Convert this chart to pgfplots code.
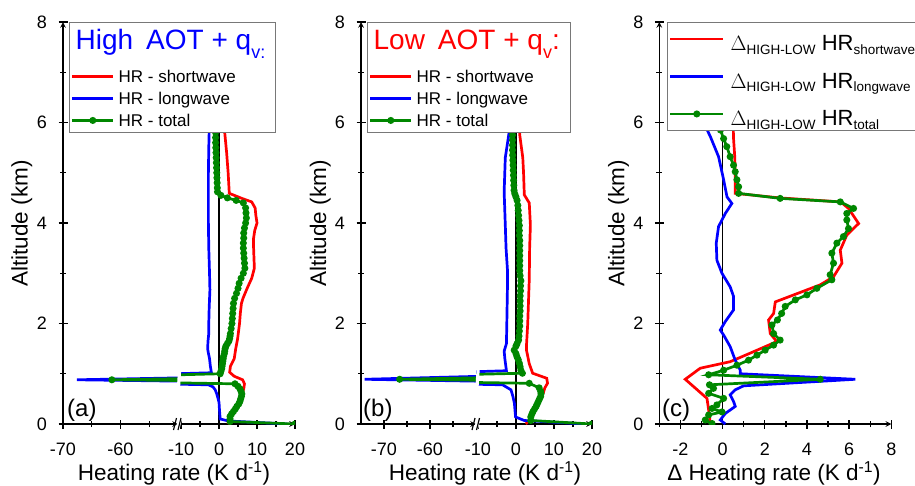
\documentclass[border=0pt]{standalone}
\usepackage{pgfplots}
\usepackage{pgfplotstable}
\pgfplotsset{compat=1.18}
\usepackage{fontspec}
\setmainfont{Liberation Sans}
\definecolor{myred}{RGB}{255,0,0}
\definecolor{myblue}{RGB}{0,0,255}
\definecolor{mygreen}{RGB}{0,135,0}
\definecolor{frame}{RGB}{120,120,120}
\newcommand{\fs}[1]{\fontsize{#1}{#1}\selectfont}
\newcommand{\sub}[1]{\raisebox{-3.5pt}{\fs{13.5}#1}}

% ---------------- data: panel (a) High AOT ----------------
\pgfplotstableread{
z v
0.00 2.3
0.10 2.9
0.20 3.6
0.30 4.3
0.40 5.0
0.50 5.6
0.60 6.1
0.70 6.5
0.80 6.7
0.88 6.2
0.95 4.0
1.03 2.8
1.15 3.0
1.30 4.0
1.50 4.4
1.70 4.9
2.00 5.4
2.20 5.6
2.40 5.9
2.50 6.3
2.70 7.4
2.90 8.6
3.10 9.3
3.30 9.2
3.50 9.1
3.70 9.1
3.85 9.4
4.00 10.0
4.15 9.7
4.30 9.5
4.42 8.6
4.49 6.0
4.59 2.7
5.00 2.4
5.40 2.0
5.80 1.5
6.00 1.4
}\redA
\pgfplotstableread{
z v
0.00 18
0.06 2.5
0.10 0.3
0.20 0.2
0.30 0.1
0.43 0.0
0.52 -0.3
0.60 -0.6
0.68 -1.0
0.74 -1.6
0.78 -2.8
0.88 -67.6
1.02 -2.0
1.16 -2.3
1.30 -2.5
1.41 -2.8
1.50 -3.0
1.65 -2.9
1.80 -2.7
2.00 -2.7
2.30 -2.6
2.67 -2.4
3.00 -2.5
3.50 -2.7
4.00 -2.8
4.50 -2.8
5.00 -2.8
5.50 -2.7
5.80 -2.6
6.00 -2.5
}\blueA
\pgfplotstableread{
z v
0.00 20
0.05 2.9
0.10 2.9
0.15 2.9
0.20 3.3
0.25 3.8
0.30 4.3
0.35 4.7
0.40 5.2
0.45 5.5
0.50 5.7
0.55 5.9
0.60 6.0
0.65 5.8
0.70 5.5
0.75 5.0
0.80 4.2
0.88 -61.5
1.00 0.3
1.05 0.5
1.10 0.7
1.15 0.8
1.20 0.9
1.25 1.0
1.30 1.1
1.35 1.2
1.40 1.4
1.45 1.5
1.50 1.6
1.55 1.8
1.60 2.2
1.65 2.6
1.70 2.8
1.75 2.9
1.80 3.0
1.90 3.2
2.00 3.4
2.10 3.5
2.20 3.6
2.30 3.7
2.40 3.8
2.50 4.1
2.60 4.6
2.70 5.0
2.80 5.3
2.90 5.8
3.00 6.4
3.10 6.8
3.20 6.7
3.30 6.6
3.40 6.5
3.50 6.4
3.60 6.4
3.70 6.5
3.80 6.5
3.90 6.7
4.00 7.0
4.10 7.2
4.20 7.1
4.30 7.0
4.40 6.4
4.45 4.5
4.50 2.2
4.55 0.5
4.62 -0.4
4.70 -0.45
4.80 -0.5
4.90 -0.55
5.00 -0.6
5.10 -0.65
5.20 -0.7
5.30 -0.75
5.40 -0.8
5.50 -0.85
5.60 -0.9
5.70 -0.9
5.80 -0.9
5.90 -0.95
6.00 -1.0
}\greenA
% ---------------- data: panel (b) Low AOT ----------------
\pgfplotstableread{
z v
0.00 2.6
0.07 3.5
0.20 4.4
0.35 5.3
0.54 6.1
0.62 7.2
0.72 7.6
0.81 8.3
0.91 8.1
1.01 4.4
1.20 3.5
1.46 2.8
1.60 2.8
2.00 3.1
2.87 3.5
3.50 3.6
3.96 3.8
4.40 3.5
4.56 2.2
5.00 2.0
5.30 1.8
5.75 1.0
6.00 0.8
}\redB
\pgfplotstableread{
z v
0.00 18
0.07 2.2
0.14 -0.1
0.41 -0.4
0.55 -0.8
0.68 -1.3
0.78 -3.5
0.89 -74.2
1.06 -2.5
1.29 -2.9
1.45 -3.1
1.60 -2.5
2.00 -2.4
2.87 -2.2
3.03 -2.2
3.50 -2.6
3.96 -2.8
4.62 -3.1
5.30 -2.8
5.75 -1.9
6.00 -1.5
}\blueB
\pgfplotstableread{
z v
0.00 20
0.07 3.9
0.14 3.9
0.20 4.2
0.25 4.5
0.30 4.9
0.35 5.3
0.40 5.6
0.45 5.9
0.50 6.2
0.55 6.5
0.60 6.6
0.65 6.5
0.72 6.1
0.81 3.5
0.89 -66.6
1.01 1.7
1.07 1.3
1.14 1.1
1.21 0.9
1.28 0.6
1.34 0.26
1.40 0.0
1.47 -0.45
1.55 0.0
1.60 0.3
1.67 0.7
1.75 0.8
1.85 0.9
1.95 1.0
2.05 1.0
2.15 1.0
2.25 1.1
2.35 1.1
2.45 1.1
2.55 1.1
2.65 1.2
2.75 1.2
2.85 1.3
2.95 1.1
3.05 1.0
3.15 1.0
3.25 1.0
3.35 1.0
3.45 1.0
3.55 1.0
3.65 1.0
3.75 0.9
3.85 0.9
3.95 0.9
4.05 0.8
4.15 0.7
4.25 0.6
4.35 0.5
4.45 0.3
4.52 0.0
4.58 -0.3
4.65 -0.5
4.75 -0.55
4.85 -0.6
4.95 -0.65
5.05 -0.7
5.15 -0.75
5.25 -0.8
5.35 -0.85
5.45 -0.9
5.55 -0.9
5.65 -0.9
5.75 -0.9
5.85 -0.9
5.95 -0.9
}\greenB
% ---------------- data: panel (c) differences ----------------
\pgfplotstableread{
z v
0.00 -0.58
0.28 -0.66
0.51 -0.74
0.89 -1.77
1.11 -1.06
1.24 0.36
1.41 1.31
1.64 2.57
1.80 2.26
2.07 2.18
2.20 2.42
2.43 2.50
2.77 4.63
2.93 5.26
3.20 5.66
3.46 5.58
3.76 5.89
3.99 6.45
4.29 5.97
4.42 5.60
4.50 2.70
4.59 0.60
4.86 0.60
5.30 0.58
5.68 0.52
6.00 0.50
}\redC
\pgfplotstableread{
z v
0.00 0.13
0.08 -0.11
0.21 0.13
0.35 0.60
0.45 0.52
0.58 0.36
0.68 0.60
0.76 1.00
0.89 6.29
1.00 0.84
1.07 0.84
1.27 0.60
1.54 0.36
1.77 0.05
1.87 -0.11
2.04 0.13
2.27 0.52
2.54 0.52
2.73 0.36
3.00 -0.03
3.26 -0.27
3.60 -0.30
3.93 -0.19
4.19 0.13
4.39 0.44
4.52 0.21
4.86 0.05
5.32 -0.19
5.72 -0.58
6.00 -0.90
}\blueC
\pgfplotstableread{
z v
0.01 -0.50
0.08 -0.82
0.18 -0.66
0.24 -0.03
0.31 -0.50
0.38 -0.27
0.51 0.05
0.61 -0.66
0.71 -0.43
0.78 -0.62
0.89 4.63
0.98 -0.66
1.07 0.05
1.17 0.68
1.27 1.23
1.37 1.63
1.47 2.02
1.57 2.42
1.67 2.73
1.80 2.42
1.97 2.34
2.07 2.60
2.20 2.80
2.34 2.97
2.47 3.45
2.57 4.00
2.70 4.47
2.87 5.18
2.97 5.10
3.20 5.26
3.40 5.18
3.60 5.42
3.73 5.73
3.89 5.97
4.06 5.89
4.19 5.89
4.29 6.21
4.42 5.58
4.49 2.73
4.59 0.76
4.72 0.76
4.86 0.68
5.02 0.60
5.15 0.52
5.32 0.36
5.52 0.20
5.68 0.05
5.85 -0.10
}\greenC

\tikzset{le/.style={text height=16pt, text depth=4pt, inner sep=1pt},
         lec/.style={text height=26.2pt, text depth=2.8pt, inner sep=1pt}}
\pgfplotsset{
  base/.style={
    scale only axis, height=402pt,
    ymin=0, ymax=8,
    clip marker paths=true,
    tick align=outside,
    major tick length=9pt, minor tick length=6pt,
    tick style={black, line width=1.3pt},
    axis line style={line width=1.5pt, -},
    every outer x axis line/.append style={-},
    every outer y axis line/.append style={-},
    /pgf/number format/assume math mode=true,
    tick label style={font=\fs{18}},
    xticklabel style={yshift=-11pt},
    yticklabel style={xshift=-8pt},
    axis x line=bottom,
  },
  yleft/.style={axis y line=left, ytick={0,2,4,6,8}, minor ytick={1,3,5,7}},
  ynone/.style={axis y line=none, ytick=\empty},
  sw/.style={myred, line width=2.7pt},
  lw/.style={myblue, line width=2.7pt},
  tot/.style={mygreen, line width=2.7pt, mark=*, mark size=2.1pt, mark options={solid}},
  zero/.style={black, line width=1.4pt},
  legA/.style={
    legend cell align=left,
    legend style={at={(0,1)}, anchor=north west, xshift=6pt, draw=frame, line width=0.9pt,
      inner xsep=1.5pt, inner ysep=1pt, font=\fs{17}, row sep=0pt, column sep=3pt},
    legend image code/.code={\draw[##1, mark repeat=2, mark phase=2] plot coordinates {(0pt,0pt) (20.5pt,0pt) (41pt,0pt)};},
  },
}

\begin{document}
\begin{tikzpicture}
% ===================== panel (a) =====================
\begin{axis}[base, ynone, at={(178pt,61pt)}, anchor=south west, width=117pt,
  xmin=-10.8, xmax=20, xtick={-10,0,10,20}, minor xtick={-5,5,15}]
\addplot[zero] coordinates {(0,0) (0,8)};
\addplot[sw] table[x=v,y=z]{\redA};
\addplot[lw] table[x=v,y=z]{\blueA};
\addplot[tot] table[x=v,y=z]{\greenA};
\end{axis}
\begin{axis}[base, yleft, legA, at={(63pt,61pt)}, anchor=south west, width=115pt,
  xmin=-70, xmax=-50, xtick={-70,-60}, minor xtick={-65,-55}]
\addlegendimage{empty legend}
\addlegendentry[text height=25pt, text depth=15pt, inner sep=1pt, text=myblue, font=\fs{28}]{\hspace*{-43pt}High\hspace{13pt}AOT + q\raisebox{-9pt}{\fs{18}v:}\hspace*{8pt}}
\addplot[sw] table[x=v,y=z]{\redA};
\addlegendentry[le]{HR - shortwave}
\addplot[lw] table[x=v,y=z]{\blueA};
\addlegendentry[le]{HR - longwave}
\addplot[tot] table[x=v,y=z]{\greenA};
\addlegendentry[le]{HR - total}
\node[anchor=base west, inner sep=0pt, font=\fs{24}] at ([xshift=4pt, yshift=8pt]axis description cs:0,0) {(a)};
\end{axis}
% break decorations (a)
\fill[white] (176.2pt,86pt) -- (179.4pt,86pt) -- (181.6pt,122pt) -- (178.4pt,122pt) -- cycle;
\fill[white] (175.5pt,56pt) -- (179.5pt,56pt) -- (182pt,66pt) -- (178pt,66pt) -- cycle;
\draw[black, line width=1.2pt] (173.5pt,55pt) -- (176.5pt,67pt);
\draw[black, line width=1.2pt] (178pt,55pt) -- (181pt,67pt);
\node[anchor=base, inner sep=0pt, font=\fs{22.5}] at (174pt,5pt) {Heating rate (K d\textsuperscript{-1})};
\node[anchor=base, rotate=90, inner sep=0pt, font=\fs{22.5}] at (27.7pt,261.5pt) {Altitude (km)};

% ===================== panel (b) =====================
\begin{axis}[base, ynone, at={(476pt,61pt)}, anchor=south west, width=116pt,
  xmin=-10.5, xmax=20, xtick={-10,0,10,20}, minor xtick={-5,5,15}]
\addplot[zero] coordinates {(0,0) (0,8)};
\addplot[sw] table[x=v,y=z]{\redB};
\addplot[lw] table[x=v,y=z]{\blueB};
\addplot[tot] table[x=v,y=z]{\greenB};
\end{axis}
\begin{axis}[base, yleft, legA, at={(361pt,61pt)}, anchor=south west, width=115pt,
  xmin=-75, xmax=-50, xtick={-70,-60}, minor xtick={-65,-55}]
\addlegendimage{empty legend}
\addlegendentry[text height=25pt, text depth=15pt, inner sep=1pt, text=myred, font=\fs{28}]{\hspace*{-43pt}Low\hspace{13pt}AOT + q\raisebox{-9pt}{\fs{18}v}:\hspace*{8pt}}
\addplot[sw] table[x=v,y=z]{\redB};
\addlegendentry[le]{HR - shortwave}
\addplot[lw] table[x=v,y=z]{\blueB};
\addlegendentry[le]{HR - longwave}
\addplot[tot] table[x=v,y=z]{\greenB};
\addlegendentry[le]{HR - total}
\node[anchor=base west, inner sep=0pt, font=\fs{24}] at ([xshift=2pt, yshift=8pt]axis description cs:0,0) {(b)};
\end{axis}
% break decorations (b)
\fill[white] (474.7pt,86pt) -- (477.9pt,86pt) -- (480.1pt,122pt) -- (476.9pt,122pt) -- cycle;
\fill[white] (474pt,56pt) -- (478pt,56pt) -- (480.5pt,66pt) -- (476.5pt,66pt) -- cycle;
\draw[black, line width=1.2pt] (472pt,55pt) -- (475pt,67pt);
\draw[black, line width=1.2pt] (476.5pt,55pt) -- (479.5pt,67pt);
\node[anchor=base, inner sep=0pt, font=\fs{22.5}] at (485pt,5pt) {Heating rate (K d\textsuperscript{-1})};
\node[anchor=base, rotate=90, inner sep=0pt, font=\fs{22.5}] at (326pt,261.5pt) {Altitude (km)};

% ===================== panel (c) =====================
\begin{axis}[base, yleft, at={(659.3pt,61pt)}, anchor=south west, width=232pt,
  xmin=-3, xmax=8, xtick={-2,0,2,4,6,8}, minor xtick={-3,-1,1,3,5,7},
  legend cell align=left,
  legend style={at={(0,1)}, anchor=north west, xshift=7.7pt, draw=frame, line width=0.9pt,
    inner xsep=1.5pt, inner ysep=1pt, font=\fs{22}, row sep=6.5pt, column sep=5pt},
  legend image code/.code={\draw[#1, mark repeat=2, mark phase=2] plot coordinates {(0pt,0pt) (26.5pt,0pt) (53pt,0pt)};}]
\addplot[zero, forget plot] coordinates {(0,0) (0,8)};
\addplot[sw] table[x=v,y=z]{\redC};
\addlegendentry[lec]{$\Delta$\sub{HIGH-LOW} HR\sub{shortwave}\hspace*{12pt}}
\addplot[lw] table[x=v,y=z]{\blueC};
\addlegendentry[lec]{$\Delta$\sub{HIGH-LOW} HR\sub{longwave}}
\addplot[tot] table[x=v,y=z]{\greenC};
\addlegendentry[lec]{$\Delta$\sub{HIGH-LOW} HR\sub{total}}
\node[anchor=base west, inner sep=0pt, font=\fs{24}] at ([xshift=2.5pt, yshift=8pt]axis description cs:0,0) {(c)};
\end{axis}
\node[anchor=base, inner sep=0pt, font=\fs{22.5}] at (774pt,5pt) {Δ Heating rate (K d\textsuperscript{-1})};
\node[anchor=base, rotate=90, inner sep=0pt, font=\fs{22.5}] at (624.3pt,261.5pt) {Altitude (km)};

\pgfresetboundingbox
\path[use as bounding box] (0,0) rectangle (915pt,485pt);
\end{tikzpicture}
\end{document}
